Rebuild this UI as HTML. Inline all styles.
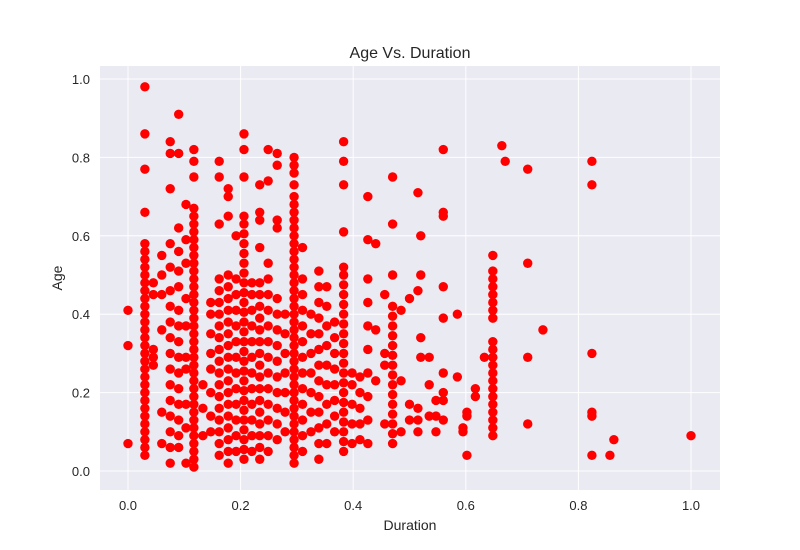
<!DOCTYPE html>
<html><head><meta charset="utf-8"><style>
body{margin:0;background:#fff;}
svg{display:block;font-family:"Liberation Sans",sans-serif;}
</style></head><body>
<svg id="chart" width="800" height="550"></svg>
<script>
const xTicks=[0,0.2,0.4,0.6,0.8,1.0];
const yTicks=[0,0.2,0.4,0.6,0.8,1.0];
const xTickLabels=["0.0","0.2","0.4","0.6","0.8","1.0"];
const yTickLabels=["0.0","0.2","0.4","0.6","0.8","1.0"];
const colDur=[0,0.03,0.045,0.06,0.075,0.09,0.103,0.117,0.133,0.147,0.162,0.178,0.192,0.206,0.22,0.234,0.249,0.265,0.279,0.295,0.31,0.325,0.339,0.353,0.367,0.383,0.398,0.412,0.426,0.44,0.456,0.47,0.485,0.5,0.515,0.52,0.535,0.547,0.56,0.585,0.595,0.602,0.617,0.633,0.648,0.664,0.67,0.71,0.737,0.824,0.856,0.863,1.0];
const colAges=[
[0.41,0.32,0.07],
[0.04,0.06,0.08,0.10,0.12,0.14,0.16,0.18,0.20,0.22,0.24,0.26,0.28,0.30,0.32,0.34,0.36,0.38,0.40,0.42,0.44,0.46,0.48,0.50,0.52,0.54,0.56,0.58,0.66,0.77,0.86,0.98],
[0.27,0.29,0.31,0.45,0.48],
[0.07,0.15,0.36,0.45,0.50,0.55],
[0.02,0.06,0.10,0.14,0.18,0.22,0.26,0.30,0.34,0.38,0.42,0.46,0.52,0.58,0.72,0.81,0.84],
[0.06,0.09,0.13,0.17,0.21,0.25,0.29,0.33,0.37,0.41,0.47,0.51,0.56,0.62,0.81,0.91],
[0.02,0.11,0.17,0.26,0.29,0.37,0.44,0.53,0.59,0.68],
[0.01,0.03,0.05,0.07,0.09,0.11,0.13,0.15,0.17,0.19,0.21,0.23,0.25,0.27,0.29,0.31,0.33,0.35,0.37,0.39,0.41,0.43,0.45,0.47,0.49,0.51,0.53,0.55,0.57,0.59,0.61,0.63,0.65,0.67,0.75,0.79,0.82],
[0.09,0.16,0.22],
[0.10,0.14,0.20,0.26,0.30,0.35,0.40,0.43],
[0.04,0.07,0.10,0.13,0.16,0.19,0.22,0.25,0.28,0.31,0.34,0.37,0.40,0.43,0.46,0.49,0.63,0.75,0.79],
[0.02,0.05,0.08,0.11,0.14,0.17,0.20,0.23,0.26,0.29,0.32,0.35,0.38,0.41,0.44,0.47,0.50,0.65,0.70,0.72],
[0.05,0.09,0.13,0.17,0.21,0.25,0.29,0.33,0.37,0.41,0.45,0.49,0.60],
[0.03,0.055,0.08,0.105,0.13,0.155,0.18,0.205,0.23,0.255,0.28,0.305,0.33,0.355,0.38,0.405,0.43,0.455,0.48,0.505,0.53,0.555,0.58,0.605,0.63,0.65,0.75,0.82,0.86],
[0.05,0.09,0.13,0.17,0.21,0.25,0.29,0.33,0.37,0.41,0.45,0.48],
[0.03,0.06,0.09,0.12,0.15,0.18,0.21,0.24,0.27,0.30,0.33,0.36,0.39,0.42,0.45,0.48,0.57,0.64,0.66,0.73],
[0.05,0.09,0.13,0.17,0.21,0.25,0.29,0.33,0.37,0.41,0.45,0.49,0.53,0.74,0.82],
[0.08,0.12,0.16,0.20,0.24,0.28,0.32,0.36,0.40,0.44,0.62,0.64,0.78,0.81],
[0.10,0.15,0.20,0.25,0.30,0.35,0.40],
[0.02,0.04,0.06,0.08,0.10,0.12,0.14,0.16,0.18,0.20,0.22,0.24,0.26,0.28,0.30,0.32,0.34,0.36,0.38,0.40,0.42,0.44,0.46,0.48,0.50,0.52,0.54,0.56,0.58,0.60,0.62,0.64,0.66,0.68,0.70,0.73,0.76,0.78,0.80],
[0.05,0.09,0.13,0.17,0.21,0.25,0.29,0.33,0.37,0.41,0.45,0.49,0.57],
[0.10,0.15,0.20,0.25,0.30,0.35,0.40],
[0.03,0.07,0.11,0.15,0.19,0.23,0.27,0.31,0.35,0.39,0.43,0.47,0.51],
[0.07,0.12,0.17,0.22,0.27,0.32,0.37,0.42,0.47],
[0.10,0.14,0.18,0.22,0.26,0.30,0.34,0.38],
[0.05,0.075,0.10,0.125,0.15,0.175,0.20,0.225,0.25,0.275,0.30,0.325,0.35,0.375,0.40,0.425,0.45,0.475,0.50,0.52,0.61,0.73,0.79,0.84],
[0.07,0.12,0.17,0.22,0.25],
[0.08,0.12,0.16,0.20,0.24],
[0.07,0.13,0.19,0.25,0.31,0.37,0.43,0.49,0.59,0.70],
[0.23,0.36,0.58],
[0.12,0.27,0.30,0.45],
[0.07,0.095,0.12,0.145,0.17,0.195,0.22,0.245,0.27,0.295,0.32,0.345,0.37,0.395,0.42,0.50,0.63,0.75],
[0.10,0.23,0.41],
[0.13,0.17,0.44],
[0.10,0.13,0.16,0.46,0.71],
[0.29,0.34,0.50,0.60],
[0.14,0.22,0.29],
[0.10,0.14,0.18],
[0.13,0.18,0.20,0.25,0.39,0.47,0.65,0.66,0.82],
[0.24,0.40],
[0.10,0.11],
[0.04,0.14,0.15],
[0.19,0.21],
[0.29],
[0.09,0.11,0.13,0.15,0.17,0.19,0.21,0.23,0.25,0.27,0.29,0.31,0.33,0.39,0.41,0.43,0.45,0.47,0.49,0.51,0.55],
[0.83],
[0.79],
[0.12,0.29,0.53,0.77],
[0.36],
[0.04,0.14,0.15,0.30,0.73,0.79],
[0.04],
[0.08],
[0.09]
];
const NS="http://www.w3.org/2000/svg";
const svg=document.getElementById('chart');
const L=100,R=720,T=66,B=490;
const xS=v=>128+v*563;
const yS=v=>471-v*392;
function mk(tag,attrs,parent){const e=document.createElementNS(NS,tag);for(const k in attrs)e.setAttribute(k,attrs[k]);(parent||svg).appendChild(e);return e;}
const bg=mk('rect',{x:L,y:T,width:R-L,height:B-T,fill:'#EAEAF2'});


xTicks.forEach((t,i)=>{
  const g=mk('line',{x1:xS(t),x2:xS(t),y1:T,y2:B,stroke:'#fff','stroke-width':1});
  
  
  const tx=mk('text',{x:xS(t),y:510,'text-anchor':'middle','font-size':13,fill:'#262626'});
  tx.textContent=xTickLabels[i];
  
  
});
yTicks.forEach((t,i)=>{
  const g=mk('line',{x1:L,x2:R,y1:yS(t),y2:yS(t),stroke:'#fff','stroke-width':1});
  
  
  const tx=mk('text',{x:90,y:yS(t)+5,'text-anchor':'end','font-size':13,fill:'#262626'});
  tx.textContent=yTickLabels[i];
  
  
});
colDur.forEach((d,i)=>{
  colAges[i].forEach(a=>{
    const c=mk('circle',{cx:xS(d),cy:yS(a),r:4.7,fill:'#ff0000'});
    
    
  });
});
const title=mk('text',{x:410,y:58,'text-anchor':'middle','font-size':16,fill:'#262626'});
title.textContent='Age Vs. Duration';


const xl=mk('text',{x:410,y:530,'text-anchor':'middle','font-size':14,fill:'#262626'});
xl.textContent='Duration';


const yl=mk('text',{x:62,y:278,'text-anchor':'middle','font-size':14,fill:'#262626',transform:'rotate(-90 62 278)'});
yl.textContent='Age';


</script>
</body></html>
